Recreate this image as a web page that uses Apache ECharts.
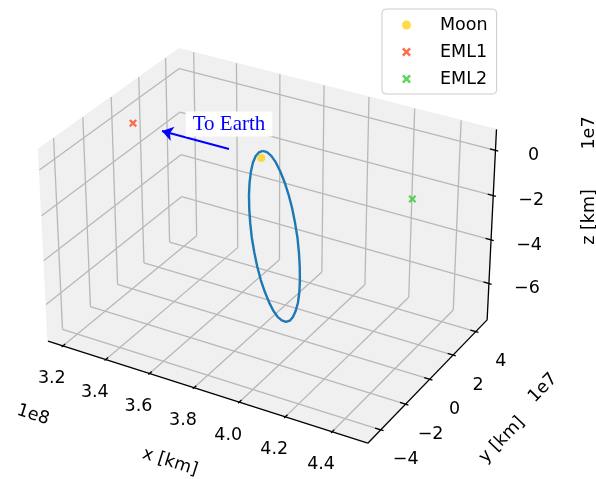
<!DOCTYPE html>
<html>
<head>
<meta charset="utf-8">
<script src="https://cdn.jsdelivr.net/npm/echarts@6/dist/echarts.min.js"></script>
<style>
  html, body { margin: 0; padding: 0; background: #ffffff; }
  #chart { width: 596px; height: 479px; }
</style>
</head>
<body>
<div id="chart"></div>
<script>
// ---- Values (x in 1e8 km, y and z in 1e7 km) ----
const xTicks = [3.2, 3.4, 3.6, 3.8, 4.0, 4.2, 4.4];
const yTicks = [-4, -2, 0, 2, 4];
const zTicks = [-6, -4, -2, 0];
const xTickLabels = ['3.2', '3.4', '3.6', '3.8', '4.0', '4.2', '4.4'];
const yTickLabels = ['\u22124', '\u22122', '0', '2', '4'];
const zTickLabels = ['\u22126', '\u22124', '\u22122', '0'];

// Orbit samples
const orbitX = [3.812, 3.831, 3.850, 3.870, 3.889, 3.908, 3.926, 3.942, 3.955, 3.966,
                3.973, 3.977, 3.978, 3.976, 3.970, 3.960, 3.948, 3.934, 3.917, 3.898,
                3.879, 3.859, 3.840, 3.821, 3.803, 3.787, 3.774, 3.763, 3.756, 3.752,
                3.751, 3.754, 3.760, 3.769, 3.781, 3.796, 3.812];
const orbitY = [0, 0, 0, 0, 0, 0, 0, 0, 0, 0, 0, 0, 0, 0, 0, 0, 0, 0, 0,
                0, 0, 0, 0, 0, 0, 0, 0, 0, 0, 0, 0, 0, 0, 0, 0, 0, 0];
const orbitZ = [0.33, 0.32, 0.21, -0.02, -0.35, -0.77, -1.27, -1.83, -2.44, -3.07,
                -3.72, -4.35, -4.96, -5.51, -6.01, -6.42, -6.74, -6.95, -7.06, -7.05,
                -6.94, -6.71, -6.38, -5.96, -5.47, -4.90, -4.30, -3.66, -3.01, -2.38,
                -1.77, -1.22, -0.73, -0.31, 0.01, 0.22, 0.33];

// Bodies
const moonPos = [3.806, 0, 0];
const eml1Pos = [3.228, 0, 0];
const eml2Pos = [4.452, 0, 0];

// Box extents
const xLim = [3.13, 4.55];
const yLim = [-5.02, 5.02];
const zLim = [-7.70, 0.91];

// ---- 3D view (elevation / azimuth in degrees, perspective distance) ----
const VIEW = { elev: 30, azim: -60, dist: 10 };
const SCREEN = { cx: 269, cy: 236.8, sx: 2637, sy: 2612 };

const toCommon = p => [p[0] * 10, p[1], p[2]];          // equal scaling on all axes
const lo = toCommon([xLim[0], yLim[0], zLim[0]]);
const hi = toCommon([xLim[1], yLim[1], zLim[1]]);
const span = hi.map((h, i) => h - lo[i]);
const mid = hi.map((h, i) => (h + lo[i]) / 2);
const boxScale = 1.9056 / Math.hypot(span[0], span[1], span[2]);
const el = VIEW.elev * Math.PI / 180, az = VIEW.azim * Math.PI / 180;
const W = [Math.cos(el) * Math.cos(az), Math.cos(el) * Math.sin(az), Math.sin(el)];
const U = [-Math.sin(az), Math.cos(az), 0];
const V = [-Math.sin(el) * Math.cos(az), -Math.sin(el) * Math.sin(az), Math.cos(el)];

function project(p) {
  const c = toCommon(p);
  const q = c.map((v, i) => (v - mid[i]) * boxScale);
  const dot = A => A[0] * q[0] + A[1] * q[1] + A[2] * q[2];
  const d = VIEW.dist - dot(W);
  return [SCREEN.cx + SCREEN.sx * dot(U) / d, SCREEN.cy - SCREEN.sy * dot(V) / d];
}

const [X0, X1] = xLim, [Y0, Y1] = yLim, [Z0, Z1] = zLim;

// Panes: left (x = min), back (y = max), floor (z = min)
const panes = [
  [[X0, Y0, Z0], [X0, Y1, Z0], [X0, Y1, Z1], [X0, Y0, Z1]],
  [[X0, Y1, Z0], [X1, Y1, Z0], [X1, Y1, Z1], [X0, Y1, Z1]],
  [[X0, Y0, Z0], [X1, Y0, Z0], [X1, Y1, Z0], [X0, Y1, Z0]]
];

// Grid lines
const gridSegs = [];
xTicks.forEach(x => {
  gridSegs.push([[x, Y0, Z0], [x, Y1, Z0]]);
  gridSegs.push([[x, Y1, Z0], [x, Y1, Z1]]);
});
yTicks.forEach(y => {
  gridSegs.push([[X0, y, Z0], [X1, y, Z0]]);
  gridSegs.push([[X0, y, Z0], [X0, y, Z1]]);
});
zTicks.forEach(z => {
  gridSegs.push([[X0, Y0, z], [X0, Y1, z]]);
  gridSegs.push([[X0, Y1, z], [X1, Y1, z]]);
});

// Axis lines
const axisSegs = [
  [[X0, Y0, Z0], [X1, Y0, Z0]],
  [[X1, Y0, Z0], [X1, Y1, Z0]],
  [[X1, Y1, Z0], [X1, Y1, Z1]]
];

// Tick marks: inward 0.2, outward 0.1 of a twelfth of the perpendicular span
const dY = (Y1 - Y0) / 12, dX = (X1 - X0) / 12;
const tickSegs = [];
xTicks.forEach(x => tickSegs.push([[x, Y0 + 0.2 * dY, Z0], [x, Y0 - 0.1 * dY, Z0]]));
yTicks.forEach(y => tickSegs.push([[X1 - 0.2 * dX, y, Z0], [X1 + 0.1 * dX, y, Z0]]));
zTicks.forEach(z => tickSegs.push([[X1 - 0.2 * dX, Y1, z], [X1 + 0.1 * dX, Y1, z]]));

const toLines = segs => segs.map(s => ({ coords: [project(s[0]), project(s[1])] }));

const orbitData = orbitX.map((x, i) => project([x, orbitY[i], orbitZ[i]]));

// ---- Text ----
const FONT = 'DejaVu Sans';
const FS = 17.5;
const texts = [];
function addText(text, x, y, rotation) {
  texts.push({
    type: 'text', x: x, y: y, rotation: rotation || 0, z: 50,
    style: { text: text, fontFamily: FONT, fontSize: FS, fill: '#000000',
             align: 'center', verticalAlign: 'middle' }
  });
}
xTicks.forEach((x, i) => {
  const p = project([x, Y0, Z0]);
  addText(xTickLabels[i], p[0] - 11, p[1] + 33);
});
yTicks.forEach((y, i) => {
  const p = project([X1, y, Z0]);
  addText(yTickLabels[i], p[0] + 25, p[1] + 30);
});
zTicks.forEach((z, i) => {
  const p = project([X1, Y1, z]);
  addText(zTickLabels[i], p[0] + 38, p[1] + 5);
});
const xAng = -0.31, yAng = 0.80, zAng = Math.PI / 2;
addText('x [km]', 170, 462, xAng);
addText('1e8', 33, 415, xAng);
addText('y [km]', 502, 440, yAng);
addText('1e7', 543, 388, yAng);
addText('z [km]', 589, 217, zAng);
addText('1e7', 589, 133, zAng);

// Annotation
texts.push({
  type: 'text', x: 229, y: 124, z: 60,
  style: { text: 'To Earth', fontFamily: 'Liberation Serif', fontSize: 21, fill: '#0000ff',
           align: 'center', verticalAlign: 'middle', backgroundColor: '#ffffff', padding: [2, 7] }
});

const xMarker = 'path://M0,2 L2,0 L5,3 L8,0 L10,2 L7,5 L10,8 L8,10 L5,7 L2,10 L0,8 L3,5 Z';

const chart = echarts.init(document.getElementById('chart'), null, { renderer: 'canvas' });
chart.setOption({
  animation: false,
  backgroundColor: '#ffffff',
  grid: { left: 0, right: 0, top: 0, bottom: 0 },
  xAxis: { type: 'value', min: 0, max: 596, show: false },
  yAxis: { type: 'value', min: 0, max: 479, inverse: true, show: false },
  legend: {
    data: ['Moon', 'EML1', 'EML2'], orient: 'vertical', left: 382, top: 9,
    itemWidth: 9, itemHeight: 9, itemGap: 7, padding: [6, 9, 5, 20],
    borderColor: '#cccccc', borderWidth: 1, borderRadius: 4,
    backgroundColor: 'rgba(255,255,255,0.8)', selectedMode: false,
    textStyle: { fontFamily: FONT, fontSize: FS, color: '#000000', lineHeight: 20, padding: [0, 0, 0, 24] }
  },
  graphic: texts,
  series: [
    {
      type: 'custom', name: 'panes', silent: true, z: 1,
      data: [0, 1, 2],
      renderItem: (params, api) => ({
        type: 'polygon',
        shape: { points: panes[api.value(0)].map(p => api.coord(project(p))) },
        style: { fill: '#f0f0f0', stroke: '#f0f0f0', lineWidth: 1 }
      }),
      encode: { x: 0, y: 0 }
    },
    {
      type: 'lines', name: 'grid', coordinateSystem: 'cartesian2d', silent: true, z: 2,
      data: toLines(gridSegs),
      lineStyle: { color: '#b8b8b8', width: 1.3, opacity: 1 }
    },
    {
      type: 'lines', name: 'axes', coordinateSystem: 'cartesian2d', silent: true, z: 3,
      data: toLines(axisSegs.concat(tickSegs)),
      lineStyle: { color: '#000000', width: 1.3, opacity: 1 }
    },
    {
      type: 'line', name: 'orbit', z: 4, data: orbitData, showSymbol: false,
      lineStyle: { color: '#1f77b4', width: 2.4 }, itemStyle: { color: '#1f77b4' }
    },
    {
      type: 'scatter', name: 'Moon', z: 5, data: [project(moonPos)],
      symbol: 'circle', symbolSize: 8, itemStyle: { color: '#ffd21a' }
    },
    {
      type: 'scatter', name: 'EML1', z: 5, data: [project(eml1Pos)],
      symbol: xMarker, symbolSize: 8, itemStyle: { color: '#ff4a1c' }
    },
    {
      type: 'scatter', name: 'EML2', z: 5, data: [project(eml2Pos)],
      symbol: xMarker, symbolSize: 8, itemStyle: { color: '#33cc33' }
    },
    {
      type: 'lines', name: 'arrow', coordinateSystem: 'cartesian2d', silent: true, z: 6,
      data: [{ coords: [[229, 149], [162, 131]] }],
      symbol: ['none', 'arrow'], symbolSize: 11,
      lineStyle: { color: '#0000ff', width: 2, opacity: 1 }
    }
  ]
});
</script>
</body>
</html>
